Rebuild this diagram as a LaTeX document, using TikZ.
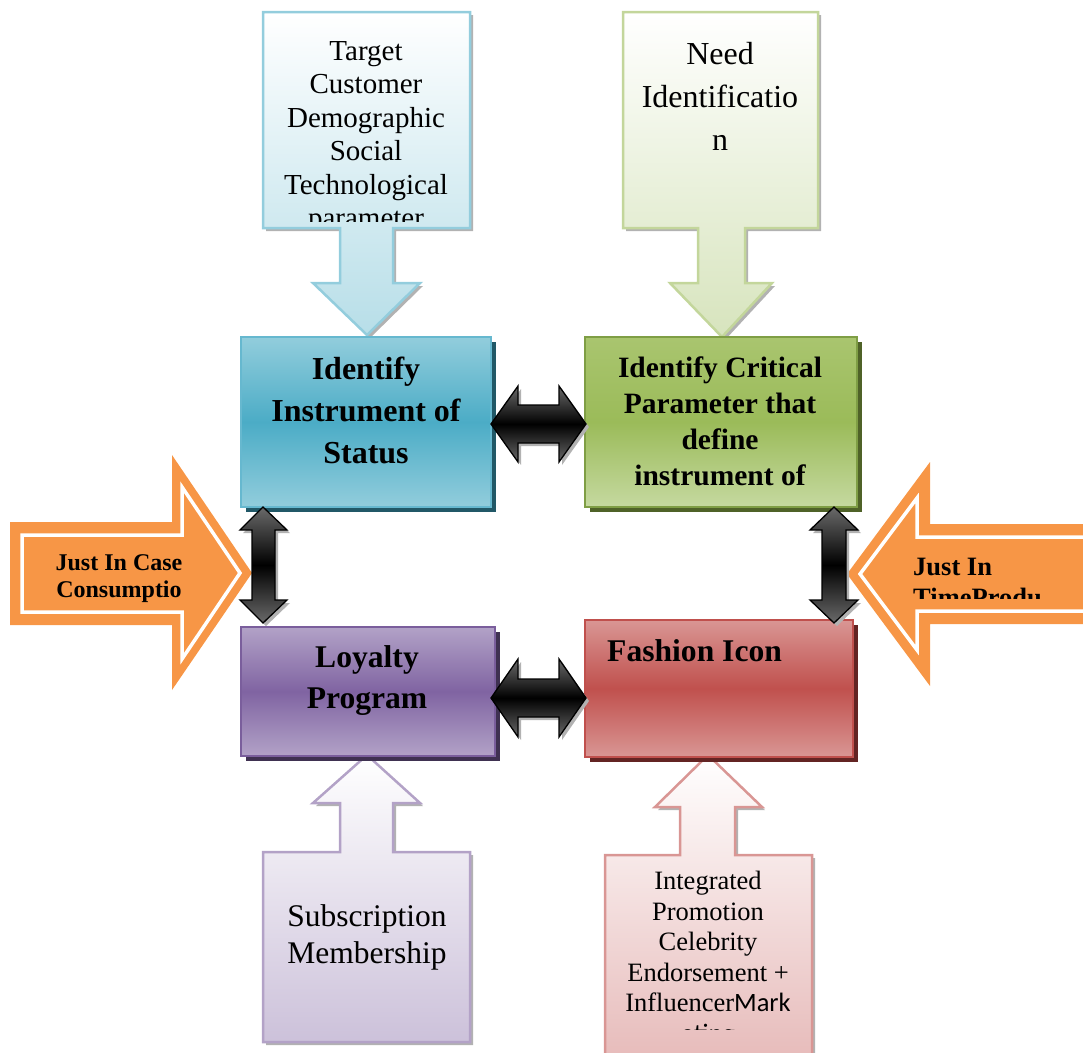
\documentclass[tikz,border=0pt]{standalone}
\usepackage{fontspec}
\setmainfont{Liberation Serif}
\newfontfamily\carlito{Carlito}
\definecolor{cBlueLine}{HTML}{93CDDD}
\definecolor{cBlueFill}{HTML}{B7DEE8}
\definecolor{cGreenLine}{HTML}{C3D69B}
\definecolor{cGreenFill}{HTML}{D7E4BD}
\definecolor{cPurpLine}{HTML}{B3A2C7}
\definecolor{cPurpFill}{HTML}{CCC1DA}
\definecolor{cPinkLine}{HTML}{D99694}
\definecolor{cPinkFill}{HTML}{E6B9B8}
\definecolor{bBlueL}{HTML}{92CDDC}
\definecolor{bBlueM}{HTML}{4BACC6}
\definecolor{bBlueS}{HTML}{215867}
\definecolor{bGreenT}{HTML}{A9C56F}
\definecolor{bGreenM}{HTML}{9BBB59}
\definecolor{bGreenB}{HTML}{C5D9A0}
\definecolor{bGreenLine}{HTML}{7F9E45}
\definecolor{bGreenS}{HTML}{4F6228}
\definecolor{bPurpL}{HTML}{B2A2C7}
\definecolor{bPurpM}{HTML}{8064A2}
\definecolor{bPurpLine}{HTML}{7A5E9C}
\definecolor{bPurpS}{HTML}{3F3151}
\definecolor{bRedL}{HTML}{D99694}
\definecolor{bRedM}{HTML}{C0504D}
\definecolor{bRedS}{HTML}{632423}
\definecolor{orangeA}{HTML}{F79646}
\definecolor{blkGray}{HTML}{6A6A6A}
\newcommand\pathBlueCall{(263,12) -- (470,12) -- (470,228) -- (393,228) -- (393,283) -- (420,283) -- (367,335) -- (313,283) -- (340,283) -- (340,228) -- (263,228) -- cycle}
\newcommand\pathGreenCall{(623,12) -- (818,12) -- (818,228) -- (745,228) -- (745,283) -- (772,283) -- (722,337) -- (670,283) -- (698,283) -- (698,228) -- (623,228) -- cycle}
\newcommand\pathPurpCall{(263,1042) -- (470,1042) -- (470,852) -- (393,852) -- (393,803) -- (420,803) -- (367,755) -- (313,803) -- (340,803) -- (340,852) -- (263,852) -- cycle}
\newcommand\pathPinkCall{(605,1070) -- (812,1070) -- (812,855) -- (735,855) -- (735,807) -- (762,807) -- (708,755) -- (655,807) -- (680,807) -- (680,855) -- (605,855) -- cycle}
\newcommand\pathArrTop{(491,424) -- (518,386) -- (518,405) -- (559,405) -- (559,386) -- (586,424) -- (559,462) -- (559,443) -- (518,443) -- (518,462) -- cycle}
\newcommand\pathArrBot{(491,698) -- (518,659) -- (518,679) -- (559,679) -- (559,659) -- (586,698) -- (559,737) -- (559,717) -- (518,717) -- (518,737) -- cycle}
\newcommand\pathArrLeft{(263,507) -- (287,530) -- (275,530) -- (275,600) -- (287,600) -- (263,623) -- (240,600) -- (252,600) -- (252,530) -- (240,530) -- cycle}
\newcommand\pathArrRight{(834,507) -- (858,530) -- (846,530) -- (846,600) -- (858,600) -- (834,623) -- (810,600) -- (822,600) -- (822,530) -- (810,530) -- cycle}
\begin{document}
\begin{tikzpicture}[x=1pt,y=-1pt,
  lshadow/.style={fill=black!30, draw=none},
  callout/.style={line width=2.5pt, line join=miter},
  mainbox/.style={line width=2pt},
  blkarrow/.style={draw=black, line width=1.3pt, line join=miter, top color=blkGray, bottom color=blkGray, middle color=black},
  orngarrow/.style={fill=orangeA, draw=none},
  orngline/.style={draw=white, line width=3.5pt, line join=miter},
  txt/.style={inner sep=0pt, align=center, anchor=north},
  calltxt/.style={txt, font=\fontsize{29}{33.5}\selectfont},
  boxtxt/.style={txt, font=\bfseries\fontsize{32}{42}\selectfont}]
\useasboundingbox (0,0) rectangle (1083,1052);
\clip (0,0) rectangle (1083,1052);

% ---------- orange side arrows ----------
\path[orngarrow] (10,522) -- (172,522) -- (172,455) -- (252,573) -- (172,690) -- (172,625) -- (10,625) -- cycle;
\draw[orngline] (22,535) -- (182,535) -- (182,487) -- (240,573) -- (182,659) -- (182,612) -- (22,612) -- cycle;
\node[txt, font=\bfseries\fontsize{24}{27}\selectfont] (jicase) at (119,554) {Just In Case\\Consumptio};

\path[orngarrow] (1100,524) -- (930,524) -- (930,462) -- (847,574) -- (930,686) -- (930,624) -- (1100,624) -- cycle;
\draw[orngline] (1100,537) -- (917,537) -- (917,498) -- (860,574) -- (917,650) -- (917,611) -- (1100,611) -- cycle;
\begin{scope}
  \clip (880,540) rectangle (1083,598);
  \node[inner sep=0pt, anchor=north west, align=left, font=\bfseries\fontsize{26.5}{31}\selectfont] (jitime) at (913,558) {Just In\\TimeProdu};
\end{scope}

% ---------- top callouts ----------
\fill[lshadow, shift={(3,3)}] \pathBlueCall;
\draw[callout, draw=cBlueLine, top color=white, bottom color=cBlueFill] \pathBlueCall;
\begin{scope}
  \clip (265,14) rectangle (468,221);
  \node[calltxt] (target) at (366,41) {Target\\Customer\\Demographic\\Social\\Technological\\parameter};
\end{scope}

\fill[lshadow, shift={(3,3)}] \pathGreenCall;
\draw[callout, draw=cGreenLine, top color=white, bottom color=cGreenFill] \pathGreenCall;
\node[txt, font=\fontsize{32}{43}\selectfont] (need) at (720,42) {Need\\Identificatio\\n};

% ---------- bottom callouts ----------
\fill[lshadow, shift={(3,3)}] \pathPurpCall;
\draw[callout, draw=cPurpLine, top color=white, bottom color=cPurpFill] \pathPurpCall;
\node[txt, font=\fontsize{31.5}{37}\selectfont] (subs) at (367,904) {Subscription\\Membership};

\fill[lshadow, shift={(3,3)}] \pathPinkCall;
\draw[callout, draw=cPinkLine, top color=white, bottom color=cPinkFill] \pathPinkCall;
\begin{scope}
  \clip (607,860) rectangle (810,1029);
  \node[txt, font=\fontsize{26.5}{30.5}\selectfont] (integ) at (708,871) {Integrated\\Promotion\\Celebrity\\Endorsement +\\Influencer{\carlito Mark}\\{\carlito eting}};
\end{scope}

% ---------- main boxes ----------
\fill[bBlueS] (246,342) rectangle (496,512);
\draw[mainbox, draw=bBlueM!85!white, top color=bBlueL, bottom color=bBlueL, middle color=bBlueM] (241,337) rectangle (491,507);
\node[boxtxt] (status) at (366,357) {Identify\\Instrument of\\Status};

\fill[bGreenS] (590,342) rectangle (862,512);
\draw[mainbox, draw=bGreenLine, top color=bGreenT, bottom color=bGreenB, middle color=bGreenM] (585,337) rectangle (857,507);
\node[txt, font=\bfseries\fontsize{29.5}{35.7}\selectfont] (critical) at (720,357) {Identify Critical\\Parameter that\\define\\instrument of};

\fill[bPurpS] (246,632) rectangle (500,761);
\draw[mainbox, draw=bPurpLine, top color=bPurpL, bottom color=bPurpL, middle color=bPurpM] (241,627) rectangle (495,756);
\node[boxtxt, font=\bfseries\fontsize{31.6}{41}\selectfont] (loyalty) at (367,645) {Loyalty\\Program};

\fill[bRedS] (590,625) rectangle (858,762);
\draw[mainbox, draw=bRedM, top color=bRedL, bottom color=bRedL, middle color=bRedM] (585,620) rectangle (853,757);
\node[inner sep=0pt, anchor=north west, font=\bfseries\fontsize{31.6}{41}\selectfont] (fashion) at (607,639) {Fashion Icon};

% ---------- black double arrows ----------
\fill[lshadow, shift={(3,3)}] \pathArrTop;
\path[blkarrow] \pathArrTop;
\fill[lshadow, shift={(3,3)}] \pathArrBot;
\path[blkarrow] \pathArrBot;
\fill[lshadow, shift={(3,3)}] \pathArrLeft;
\path[blkarrow] \pathArrLeft;
\fill[lshadow, shift={(3,3)}] \pathArrRight;
\path[blkarrow] \pathArrRight;
\end{tikzpicture}
\end{document}
